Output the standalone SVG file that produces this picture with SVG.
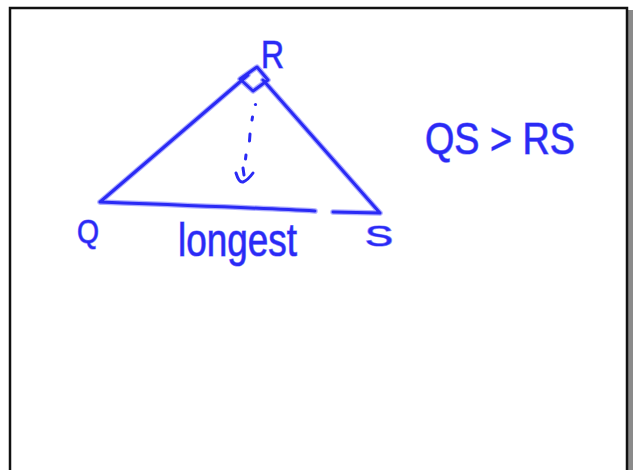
<svg xmlns="http://www.w3.org/2000/svg" width="637" height="470" viewBox="0 0 637 470">
<style>
.ink{fill:none;stroke:#2a2af5;stroke-width:3;stroke-linecap:round;stroke-linejoin:round}
.halo{fill:none;stroke:#9a9aff;stroke-width:5.5;stroke-linecap:round;stroke-linejoin:round;opacity:0.8}
.lbl{font-family:"Liberation Sans","DejaVu Sans",sans-serif;fill:#2a2af5;stroke:#8a8aff;stroke-width:1.2;paint-order:stroke}
</style>
<rect x="0" y="0" width="637" height="470" fill="#fff"/>
<rect x="628" y="10" width="5" height="462" fill="#8a8a8a"/>
<path d="M10 472 V8 H627 V472" fill="none" stroke="#111" stroke-width="2.5"/>
<g id="triangle">
<path class="halo" d="M100 202 L248 75 M240 79 L257 67 L268 80 L253 91 Z M263 80 L380 213 M100 202 C180 205 260 208 315 211 M333 212 L380 213"/>
<path class="ink" d="M100 202 L248 75 M240 79 L257 67 L268 80 L253 91 Z M263 80 L380 213 M100 202 C180 205 260 208 315 211 M333 212 L380 213"/>
</g>
<g id="altitude">
<circle cx="255.5" cy="104.5" r="1.6" fill="#2a2af5"/>
<path class="ink" stroke-width="2.6" d="M252.5 117 L252 120 M250 134 L249.5 141 M246 155 L245.5 159 M243 168 L244 175 M236 173 Q239 183 243 182 Q248 180 253 173"/>
</g>
<g id="labels">
<text class="lbl" x="261" y="68" font-size="38" textLength="23" lengthAdjust="spacingAndGlyphs">R</text>
<text class="lbl" x="77" y="243" font-size="33" textLength="22" lengthAdjust="spacingAndGlyphs">Q</text>
<text class="lbl" x="365" y="246" font-size="29" textLength="28" lengthAdjust="spacingAndGlyphs">S</text>
<text class="lbl" x="178" y="256" font-size="46" textLength="119" lengthAdjust="spacingAndGlyphs">longest</text>
<text class="lbl" x="425" y="154" font-size="44" textLength="150" lengthAdjust="spacingAndGlyphs">QS &gt; RS</text>
</g>
</svg>
